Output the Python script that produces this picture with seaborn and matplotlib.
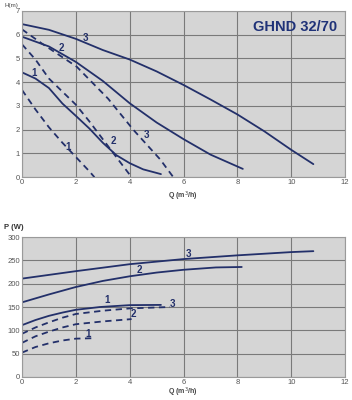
import numpy as np
import pandas as pd
import matplotlib
matplotlib.use("Agg")
import matplotlib.pyplot as plt
import seaborn as sns

navy = "#23306a"

# ----- H(Q) curves (top) -----
q_h_solid3 = [0, 1, 2, 3, 4, 5, 6, 7, 8, 9, 10, 10.82]
h_solid3 = [6.44, 6.2, 5.82, 5.35, 4.95, 4.45, 3.88, 3.27, 2.64, 1.93, 1.15, 0.55]
q_h_solid2 = [0, 1, 2, 3, 4, 5, 6, 7, 8, 8.2]
h_solid2 = [5.91, 5.5, 4.85, 4.05, 3.11, 2.3, 1.6, 0.95, 0.45, 0.35]
q_h_solid1 = [0, 0.5, 1, 1.5, 2, 2.5, 3, 3.5, 4, 4.5, 5.16]
h_solid1 = [4.41, 4.15, 3.75, 3.1, 2.58, 2.05, 1.45, 0.93, 0.59, 0.33, 0.13]
q_h_dash3 = [0, 0.73, 2.03, 3.2, 4.13, 5.13, 5.62]
h_dash3 = [6.22, 5.63, 4.65, 3.3, 2.0, 0.75, 0.0]
q_h_dash2 = [0, 0.5, 1, 1.5, 2, 2.5, 3, 3.5, 4.07]
h_dash2 = [5.59, 4.95, 4.15, 3.6, 3.05, 2.35, 1.6, 0.85, 0.0]
q_h_dash1 = [0, 0.5, 1, 1.5, 2, 2.5, 2.69]
h_dash1 = [3.67, 2.85, 2.1, 1.45, 0.85, 0.25, 0.0]

# ----- P(Q) curves (bottom) -----
q_p_solid3 = [0, 2, 4, 6, 8, 10, 10.82]
p_solid3 = [211, 227, 242, 253, 261, 268, 270]
q_p_solid2 = [0, 1, 2, 3, 4, 5, 6, 7.2, 8.16]
p_solid2 = [160, 177, 193, 206, 216, 224, 230, 235, 236]
q_p_solid1 = [0, 0.5, 1, 1.5, 2, 2.9, 4, 5.16]
p_solid1 = [111, 122, 131, 138, 144, 150, 154, 154.5]
q_p_dash3 = [0, 0.5, 1, 1.5, 2, 3, 4, 5.5]
p_dash3 = [92.5, 106, 117, 127, 135, 142, 147, 150]
q_p_dash2 = [0, 0.5, 1, 1.5, 2, 3, 4.07]
p_dash2 = [73, 87, 97, 106, 113, 119, 124]
q_p_dash1 = [0, 0.5, 1, 1.5, 2, 2.69]
p_dash1 = [52, 64, 72, 78, 82, 83]

h_curves = [(q_h_solid1, h_solid1, "-"), (q_h_solid2, h_solid2, "-"), (q_h_solid3, h_solid3, "-"),
            (q_h_dash1, h_dash1, "--"), (q_h_dash2, h_dash2, "--"), (q_h_dash3, h_dash3, "--")]
p_curves = [(q_p_solid1, p_solid1, "-"), (q_p_solid2, p_solid2, "-"), (q_p_solid3, p_solid3, "-"),
            (q_p_dash1, p_dash1, "--"), (q_p_dash2, p_dash2, "--"), (q_p_dash3, p_dash3, "--")]

h_labels = [("3", 2.34, 5.86), ("2", 1.45, 5.45), ("1", 0.46, 4.4),
            ("1", 1.7, 1.29), ("2", 3.39, 1.54), ("3", 4.61, 1.78)]
p_labels = [("3", 6.18, 264), ("2", 4.36, 230), ("1", 3.15, 164),
            ("3", 5.6, 156), ("2", 4.14, 134), ("1", 2.44, 91)]

sns.set_style("whitegrid")
plt.rcParams["font.family"] = ["Liberation Sans", "DejaVu Sans"]

fig = plt.figure(figsize=(3.52, 4.0), dpi=100)
ax1 = fig.add_axes([0.0625, 0.557, 0.918, 0.416])
ax2 = fig.add_axes([0.0625, 0.058, 0.918, 0.349])


def draw(ax, curves, labels, ylim, yticks):
    for q, v, ls in curves:
        df = pd.DataFrame({"Q": q, "V": v})
        sns.lineplot(data=df, x="Q", y="V", ax=ax, color=navy, lw=1.3)
        ax.lines[-1].set_linestyle(ls)
        if ls == "--":
            ax.lines[-1].set_dashes((3.5, 2.5))
    for t, x, y in labels:
        ax.text(x, y, t, color=navy, fontsize=7, fontweight="bold", ha="center", va="center")
    ax.set_facecolor("#d5d5d5")
    ax.set_xlim(0, 12)
    ax.set_ylim(*ylim)
    ax.set_xticks(range(0, 13, 2))
    ax.set_yticks(yticks)
    ax.grid(True, color="#7a7a7a", lw=0.8)
    ax.tick_params(length=0, labelsize=5.5, labelcolor="#555555", pad=1.5)
    for s in ax.spines.values():
        s.set_color("#9a9a9a")
        s.set_linewidth(0.8)
    ax.set_xlabel("")
    ax.set_ylabel("")


draw(ax1, h_curves, h_labels, (0, 7), range(0, 8))
draw(ax2, p_curves, p_labels, (0, 300), range(0, 301, 50))

ax1.text(0.845, 0.905, "GHND 32/70", transform=ax1.transAxes, color="#1f3278",
         fontsize=10.5, fontweight="bold", ha="center", va="center")
fig.text(0.012, 0.992, "H(m)", fontsize=4.5, color="#444444", va="top", ha="left")
fig.text(0.52, 0.51, "Q (m$^3$/h)", fontsize=5, fontweight="bold", color="#444444",
         ha="center", va="center")
fig.text(0.012, 0.432, "P (W)", fontsize=5.5, fontweight="bold", color="#333333", va="center", ha="left")
fig.text(0.52, 0.003, "Q (m$^3$/h)", fontsize=5, fontweight="bold", color="#444444",
         ha="center", va="bottom")

fig.savefig("out.png", dpi=100)
